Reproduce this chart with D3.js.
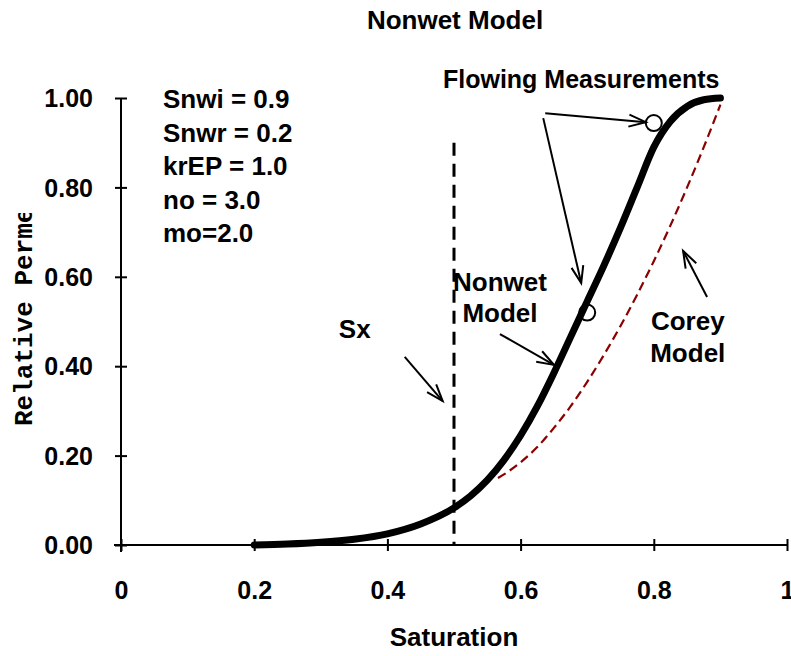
<!DOCTYPE html>
<html>
<head>
<meta charset="utf-8">
<script src="https://cdn.jsdelivr.net/npm/d3@7"></script>
<style>
  html, body { margin: 0; padding: 0; background: #fff; }
  svg { display: block; }
  text { font-family: "Liberation Sans", Arial, sans-serif; font-weight: bold; fill: #000; }
</style>
</head>
<body>
<svg id="chart" width="791" height="656"></svg>
<script>
// Nonwet relative permeability model (saturation, kr)
const nonwetS  = [0.20, 0.25, 0.30, 0.35, 0.40, 0.45, 0.50, 0.525, 0.55, 0.575, 0.60, 0.625, 0.65, 0.675, 0.70, 0.725, 0.75, 0.775, 0.80, 0.825, 0.85, 0.875, 0.90];
const nonwetKr = [0.000, 0.002, 0.006, 0.013, 0.025, 0.047, 0.083, 0.110, 0.145, 0.190, 0.245, 0.310, 0.385, 0.465, 0.545, 0.625, 0.710, 0.800, 0.890, 0.948, 0.981, 0.996, 1.000];

// Corey model curve
const coreyS  = [0.566, 0.575, 0.60, 0.625, 0.65, 0.675, 0.70, 0.725, 0.75, 0.775, 0.80, 0.825, 0.85, 0.875, 0.90];
const coreyKr = [0.150, 0.158, 0.185, 0.219, 0.262, 0.310, 0.365, 0.425, 0.490, 0.560, 0.635, 0.715, 0.800, 0.890, 0.985];

// Flowing measurements
const measS  = [0.70, 0.80];
const measKr = [0.52, 0.944];

// Sx marker
const sx = 0.5;
const sxTop = 0.9;

// Axis ticks
const xTicks = [0, 0.2, 0.4, 0.6, 0.8, 1];
const xTickLabels = ["0", "0.2", "0.4", "0.6", "0.8", "1"];
const yTicks = [0, 0.2, 0.4, 0.6, 0.8, 1.0];
const yTickLabels = ["0.00", "0.20", "0.40", "0.60", "0.80", "1.00"];

// Parameter block
const paramLines = ["Snwi = 0.9", "Snwr = 0.2", "krEP = 1.0", "no = 3.0", "mo=2.0"];

// Annotation arrows: [fromS, fromKr, toS, toKr]
const arrows = [
  [0.637, 0.966, 0.788, 0.946],
  [0.634, 0.955, 0.691, 0.586],
  [0.569, 0.472, 0.650, 0.403],
  [0.426, 0.421, 0.483, 0.322],
  [0.880, 0.555, 0.844, 0.658]
];

// Annotation labels: [text, S, kr of baseline]
const labels = [
  ["Flowing Measurements", 0.691, 1.022],
  ["Nonwet", 0.569, 0.569],
  ["Model", 0.569, 0.500],
  ["Sx", 0.351, 0.464],
  ["Corey", 0.851, 0.481],
  ["Model", 0.851, 0.409]
];

const svg = d3.select("#chart");
const x = d3.scaleLinear().domain([0, 1]).range([121, 787]);
const y = d3.scaleLinear().domain([0, 1]).range([545, 98]);
const FS = 26, TFS = 25;

// Title
svg.append("text").attr("x", 455).attr("y", 29).attr("text-anchor", "middle")
  .style("font-size", FS + "px").text("Nonwet Model");

// X axis
const xAxis = d3.axisBottom(x).tickValues(xTicks)
  .tickFormat((d, i) => xTickLabels[i]).tickSizeOuter(0).tickSize(6).tickPadding(30);
const gx = svg.append("g").attr("transform", `translate(0,${y(0)})`).call(xAxis);
gx.select(".domain").remove();
gx.append("line").attr("x1", x(0) - 7).attr("x2", x(1)).attr("y1", 0).attr("y2", 0)
  .attr("stroke", "#000").attr("stroke-width", 2);
gx.selectAll(".tick line").attr("y1", -6).attr("y2", 6).attr("stroke-width", 2);
gx.selectAll(".tick text").style("font-size", TFS + "px").style("font-family", "Liberation Sans, Arial, sans-serif")
  .style("font-weight", "bold").attr("fill", "#000");

// Y axis
const yAxis = d3.axisLeft(y).tickValues(yTicks)
  .tickFormat((d, i) => yTickLabels[i]).tickSizeOuter(0).tickSize(6).tickPadding(22);
const gy = svg.append("g").attr("transform", `translate(${x(0)},0)`).call(yAxis);
gy.select(".domain").remove();
gy.append("line").attr("x1", 0).attr("x2", 0).attr("y1", y(1)).attr("y2", y(0) + 7)
  .attr("stroke", "#000").attr("stroke-width", 2);
gy.selectAll(".tick line").attr("x1", -6).attr("x2", 6).attr("stroke-width", 2);
gy.selectAll(".tick text").style("font-size", TFS + "px").style("font-family", "Liberation Sans, Arial, sans-serif")
  .style("font-weight", "bold").attr("fill", "#000").attr("dy", "0.35em");

// Axis titles
svg.append("text").attr("x", 454).attr("y", 646).attr("text-anchor", "middle")
  .style("font-size", FS + "px").text("Saturation");

svg.append("clipPath").attr("id", "ylabClip")
  .append("rect").attr("x", 0).attr("y", 213).attr("width", 60).attr("height", 443);
svg.append("g").attr("clip-path", "url(#ylabClip)")
  .append("text").attr("transform", "translate(32,426) rotate(-90)")
  .attr("text-anchor", "start")
  .style("font-family", "'Liberation Mono', 'Courier New', monospace")
  .style("font-size", "26px").text("Relative Permeability");

// Sx dashed line
svg.append("line").attr("x1", x(sx)).attr("x2", x(sx)).attr("y1", y(sxTop)).attr("y2", y(0))
  .attr("stroke", "#000").attr("stroke-width", 3).attr("stroke-dasharray", "13,8");

// Corey model
const coreyData = coreyS.map((s, i) => [s, coreyKr[i]]);
svg.append("path").datum(coreyData)
  .attr("d", d3.line().x(d => x(d[0])).y(d => y(d[1])).curve(d3.curveMonotoneX))
  .attr("fill", "none").attr("stroke", "#8b0000").attr("stroke-width", 2.2)
  .attr("stroke-dasharray", "9,5");

// Flowing measurement circles
svg.selectAll("circle.meas").data(measS.map((s, i) => [s, measKr[i]])).enter()
  .append("circle").attr("class", "meas")
  .attr("cx", d => x(d[0])).attr("cy", d => y(d[1])).attr("r", 8)
  .attr("fill", "none").attr("stroke", "#000").attr("stroke-width", 2);

// Nonwet model
const nonwetData = nonwetS.map((s, i) => [s, nonwetKr[i]]);
svg.append("path").datum(nonwetData)
  .attr("d", d3.line().x(d => x(d[0])).y(d => y(d[1])).curve(d3.curveMonotoneX))
  .attr("fill", "none").attr("stroke", "#000").attr("stroke-width", 7)
  .attr("stroke-linecap", "round");

// Parameter text
svg.selectAll("text.param").data(paramLines).enter().append("text")
  .attr("class", "param").attr("x", 163).attr("y", (d, i) => 108 + i * 33.5)
  .style("font-size", FS + "px").text(d => d);

// Labels
svg.selectAll("text.lab").data(labels).enter().append("text")
  .attr("class", "lab").attr("x", d => x(d[1])).attr("y", d => y(d[2]))
  .attr("text-anchor", "middle").style("font-size", (d, i) => (i === 0 ? TFS : FS) + "px").text(d => d[0]);

// Arrows with open heads
const head = 18, ang = 0.34;
arrows.forEach(a => {
  const x1 = x(a[0]), y1 = y(a[1]), x2 = x(a[2]), y2 = y(a[3]);
  const t = Math.atan2(y2 - y1, x2 - x1);
  const g = svg.append("g").attr("stroke", "#000").attr("stroke-width", 2).attr("fill", "none");
  g.append("line").attr("x1", x1).attr("y1", y1).attr("x2", x2).attr("y2", y2);
  g.append("path").attr("d", d3.line()([
    [x2 - head * Math.cos(t - ang), y2 - head * Math.sin(t - ang)],
    [x2, y2],
    [x2 - head * Math.cos(t + ang), y2 - head * Math.sin(t + ang)]
  ]));
});
</script>
</body>
</html>
